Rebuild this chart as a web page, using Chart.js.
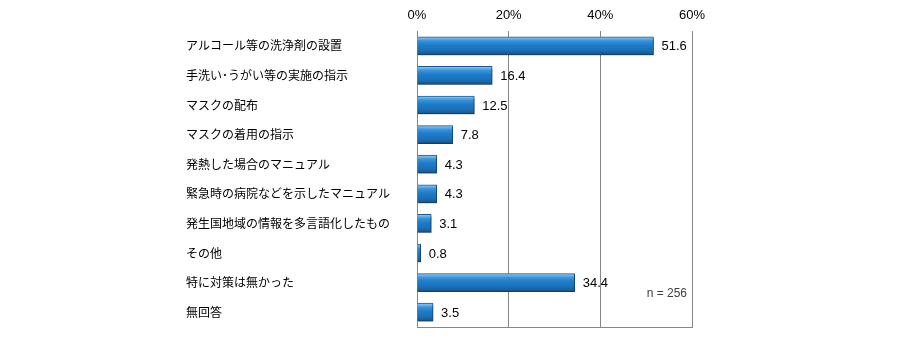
<!DOCTYPE html>
<html>
<head>
<meta charset="utf-8">
<script src="https://cdn.jsdelivr.net/npm/chart.js@4"></script>
<style>
  html, body { margin: 0; padding: 0; background: #fff; }
  #wrap { width: 908px; height: 339px; }
</style>
</head>
<body>
<div id="wrap"><canvas id="myChart" width="908" height="339"></canvas></div>
<script>
    var categories = [
        'アルコール等の洗浄剤の設置',
        '手洗い･うがい等の実施の指示',
        'マスクの配布',
        'マスクの着用の指示',
        '発熱した場合のマニュアル',
        '緊急時の病院などを示したマニュアル',
        '発生国地域の情報を多言語化したもの',
        'その他',
        '特に対策は無かった',
        '無回答'
    ];
    var percents = [51.6, 16.4, 12.5, 7.8, 4.3, 4.3, 3.1, 0.8, 34.4, 3.5];
    var xTicks = [0, 20, 40, 60];
    var sampleNote = 'n = 256';

    window.onload = function () {
        var ctx = document.getElementById('myChart').getContext('2d');

        // vertical bevel gradient per bar
        function barFill(c) {
            var chart = c.chart;
            var y = chart.scales.y;
            if (!y || !chart.chartArea) return '#1f7ac8';
            var yc = y.getPixelForValue(c.dataIndex);
            var g = chart.ctx.createLinearGradient(0, yc - 9, 0, yc + 9);
            g.addColorStop(0, '#9ccbf0');
            g.addColorStop(0.1, '#6fb2e6');
            g.addColorStop(0.22, '#3b93d9');
            g.addColorStop(0.45, '#1f7cc9');
            g.addColorStop(0.75, '#1b6fb6');
            g.addColorStop(0.9, '#1a5e99');
            g.addColorStop(1, '#1a4f7c');
            return g;
        }

        var extras = {
            id: 'extras',
            beforeDatasetsDraw: function (chart) {
                var c = chart.ctx;
                c.save();
                c.shadowColor = 'rgba(0,0,0,0.35)';
                c.shadowOffsetX = 1;
                c.shadowOffsetY = 2;
                c.shadowBlur = 2;
            },
            afterDatasetsDraw: function (chart) {
                var c = chart.ctx;
                c.restore();
                var a = chart.chartArea;
                // bottom frame line
                c.save();
                c.strokeStyle = '#868686';
                c.lineWidth = 1;
                c.beginPath();
                c.moveTo(a.left, Math.round(a.bottom) + 0.5);
                c.lineTo(a.right + 1, Math.round(a.bottom) + 0.5);
                c.stroke();
                // value labels
                var meta = chart.getDatasetMeta(0);
                c.font = '13px "Liberation Sans", Arial, sans-serif';
                c.fillStyle = '#000';
                c.textAlign = 'left';
                c.textBaseline = 'middle';
                meta.data.forEach(function (bar, i) {
                    c.fillText(percents[i].toFixed(1), bar.x + 8, bar.y + 1);
                });
                c.font = '12px "Liberation Sans", Arial, sans-serif';
                c.fillStyle = '#404040';
                c.textAlign = 'right';
                c.fillText(sampleNote, a.right - 5, chart.scales.y.getPixelForValue(8) + 11);
                c.restore();
            }
        };

        var myChart = new Chart(ctx, {
            type: 'bar',
            data: {
                labels: categories,
                datasets: [{
                    data: percents,
                    backgroundColor: barFill,
                    borderColor: '#1a5a92',
                    borderWidth: 1,
                    barThickness: 18
                }]
            },
            options: {
                indexAxis: 'y',
                responsive: false,
                animation: false,
                layout: { padding: { left: 186, right: 216, top: 0, bottom: 12 } },
                plugins: {
                    legend: { display: false },
                    tooltip: { enabled: false }
                },
                scales: {
                    x: {
                        position: 'top',
                        min: 0,
                        max: 60,
                        afterBuildTicks: function (s) {
                            s.ticks = xTicks.map(function (v) { return { value: v }; });
                        },
                        afterFit: function (s) { s.height = 31; },
                        grid: { color: '#868686', drawTicks: false },
                        border: { display: false },
                        ticks: {
                            padding: 8,
                            color: '#000',
                            font: { family: '"Liberation Sans", Arial, sans-serif', size: 13 },
                            callback: function (v) { return v + '%'; }
                        }
                    },
                    y: {
                        afterFit: function (s) { s.width = 231; },
                        grid: { display: false },
                        border: { display: true, color: '#868686', width: 1 },
                        ticks: {
                            crossAlign: 'far',
                            color: '#000',
                            font: { family: '"Noto Sans CJK JP", sans-serif', size: 12 }
                        }
                    }
                }
            },
            plugins: [extras]
        });
    };
</script>
</body>
</html>
